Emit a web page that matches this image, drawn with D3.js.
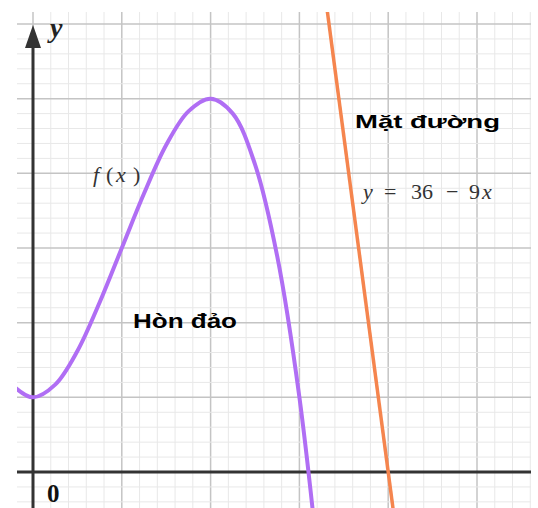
<!DOCTYPE html>
<html>
<head>
<meta charset="utf-8">
<script src="https://cdn.jsdelivr.net/npm/d3@7"></script>
<style>
  body { margin: 0; background: #fff; }
  svg { display: block; }
</style>
</head>
<body>
<script>
// points of f(x)
const fX = [-0.2, 0, 0.25, 0.5, 0.75, 1, 1.25, 1.5, 1.75, 2, 2.25, 2.5, 2.75, 3, 3.25];
const fY = [1.13, 1, 1.17, 1.62, 2.27, 3, 3.73, 4.38, 4.83, 5, 4.8, 4.12, 2.89, 1, -1.64];

// road line y = 36 - 9x, two end points
const roadX = [3.2, 4.2];
const roadY = [7.2, -1.8];

const labels = ['Hòn đảo', 'Mặt đường'];

// math labels, glyph by glyph with their left edges (px)
const fxGlyphs = [['f', 93, 'italic'], ['(', 106, 'normal'], ['x', 116, 'italic'], [')', 133, 'normal']];
const eqGlyphs = [['y', 363, 'italic'], ['=', 384, 'normal'], ['36', 411, 'normal'],
                  ['−', 446, 'normal'], ['9', 469, 'normal'], ['x', 482, 'italic']];

const serif = '"Liberation Serif", "Times New Roman", serif';

const draw = () => {
    const width = 538, height = 508;

    const svg = d3.select('body')
        .append('svg')
        .attr('width', width)
        .attr('height', height);

    // scales
    const x = d3.scaleLinear().domain([0, 5]).range([33, 477]);
    const y = d3.scaleLinear().domain([0, 6]).range([472, 24]);

    const left = 17, right = 531, top = 12, bottom = height;

    svg.append('clipPath').attr('id', 'plot')
        .append('rect')
        .attr('x', left).attr('y', top)
        .attr('width', right - left).attr('height', bottom - top);

    // grid
    const xTicks = d3.range(0, 28.5).map(d => d / 5);
    const yTicks = d3.range(-2, 31).map(d => d / 5);
    const isMajor = v => Math.abs(v - Math.round(v)) < 1e-6;

    const grid = svg.append('g');
    grid.selectAll('line.v')
        .data(xTicks.slice().sort((a, b) => isMajor(a) - isMajor(b)))
        .enter().append('line')
        .attr('x1', d => x(d)).attr('x2', d => x(d))
        .attr('y1', top).attr('y2', bottom)
        .attr('stroke', d => isMajor(d) ? '#c4c4c4' : '#e8e8e8')
        .attr('stroke-width', d => isMajor(d) ? 1.5 : 1);
    grid.selectAll('line.h')
        .data(yTicks.slice().sort((a, b) => isMajor(a) - isMajor(b)))
        .enter().append('line')
        .attr('y1', d => y(d)).attr('y2', d => y(d))
        .attr('x1', left).attr('x2', right)
        .attr('stroke', d => isMajor(d) ? '#c4c4c4' : '#e8e8e8')
        .attr('stroke-width', d => isMajor(d) ? 1.5 : 1);

    // axes
    svg.append('line')
        .attr('x1', left).attr('x2', right)
        .attr('y1', y(0)).attr('y2', y(0))
        .attr('stroke', '#333').attr('stroke-width', 3);
    svg.append('line')
        .attr('x1', x(0)).attr('x2', x(0))
        .attr('y1', bottom).attr('y2', 45)
        .attr('stroke', '#333').attr('stroke-width', 3);
    svg.append('path')
        .attr('d', `M${x(0)},25 L${x(0) - 8},48 L${x(0) + 8},48 Z`)
        .attr('fill', '#333');

    const g = svg.append('g').attr('clip-path', 'url(#plot)');

    // f(x)
    const fLine = d3.line()
        .x(d => x(d[0]))
        .y(d => y(d[1]))
        .curve(d3.curveCatmullRom);
    g.append('path')
        .attr('d', fLine(d3.zip(fX, fY)))
        .attr('fill', 'none')
        .attr('stroke', '#b06ef4')
        .attr('stroke-width', 4);

    // road
    g.append('path')
        .attr('d', d3.line().x(d => x(d[0])).y(d => y(d[1]))(d3.zip(roadX, roadY)))
        .attr('fill', 'none')
        .attr('stroke', '#f5854e')
        .attr('stroke-width', 3.5);

    // axis labels
    svg.append('text')
        .attr('x', 50).attr('y', 37)
        .attr('font-family', serif)
        .attr('font-style', 'italic').attr('font-weight', 'bold')
        .attr('font-size', 28)
        .attr('fill', '#222')
        .text('y');
    svg.append('text')
        .attr('x', 47).attr('y', 502)
        .attr('font-family', serif)
        .attr('font-weight', 'bold')
        .attr('font-size', 25)
        .attr('fill', '#111')
        .text('0');

    // math annotations
    const math = (glyphs, baseline, size) => {
        const t = svg.append('text')
            .attr('y', baseline)
            .attr('font-family', serif)
            .attr('font-size', size)
            .attr('fill', '#333');
        t.selectAll('tspan')
            .data(glyphs)
            .enter().append('tspan')
            .attr('x', d => d[1])
            .attr('font-style', d => d[2])
            .text(d => d[0]);
    };
    math(fxGlyphs, 182, 22);
    math(eqGlyphs, 199, 22);

    // text annotations
    svg.append('text')
        .attr('x', 133).attr('y', 328)
        .attr('font-family', '"Liberation Sans", Arial, sans-serif').attr('font-weight', 'bold')
        .attr('font-size', 20)
        .attr('textLength', 104).attr('lengthAdjust', 'spacingAndGlyphs')
        .text(labels[0]);
    svg.append('text')
        .attr('x', 355).attr('y', 128)
        .attr('font-family', '"Liberation Sans", Arial, sans-serif').attr('font-weight', 'bold')
        .attr('font-size', 19)
        .attr('textLength', 145).attr('lengthAdjust', 'spacingAndGlyphs')
        .text(labels[1]);
}

draw();
</script>
</body>
</html>
